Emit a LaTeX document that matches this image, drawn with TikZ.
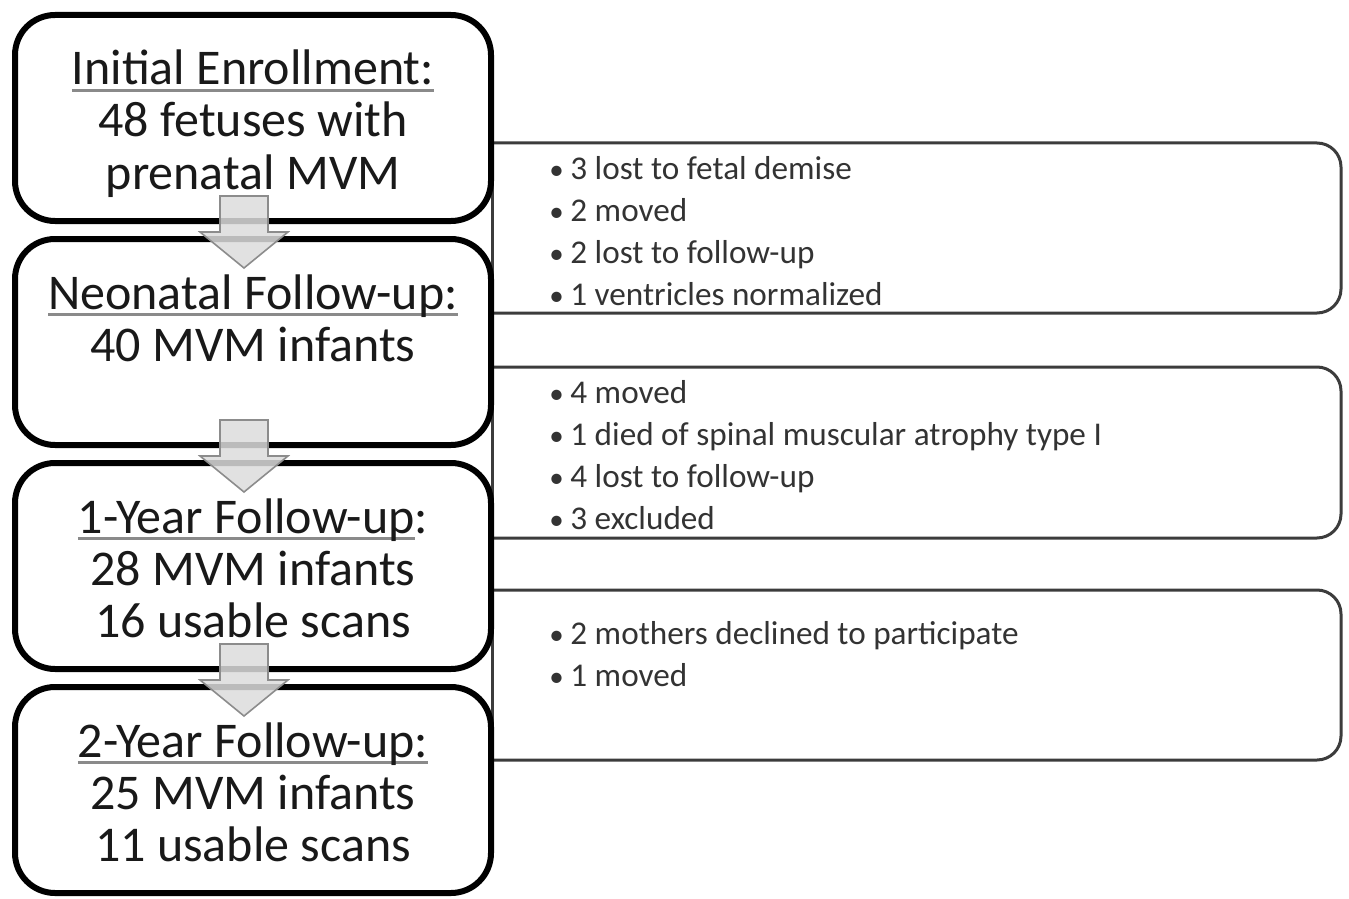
\documentclass[tikz,border=0pt]{standalone}
\usepackage{fontspec}
\setmainfont{Carlito}
\usetikzlibrary{positioning,calc}

\definecolor{arrowfill}{HTML}{DCDCDC}
\definecolor{arrowline}{HTML}{8C8C8C}
\definecolor{lossline}{HTML}{3C3C3C}
\definecolor{losstext}{HTML}{333333}
\definecolor{ulgray}{HTML}{8A8A8A}

% underlined stage title (grey rule under the text)
\newcommand{\ttl}[1]{\setbox0\hbox{#1}\rlap{\color{ulgray}\rule[-3.5pt]{\wd0}{1.5pt}}\box0}
% three lines of a stage, with struts so every box sets them alike
\newcommand{\stage}[3]{\rule{0pt}{24pt}#1\\#2\\#3\rule[-5pt]{0pt}{5pt}}
\newcommand{\lossitem}[1]{\makebox[10.5pt][l]{\fontsize{14.5}{14.5}\selectfont\textbullet}#1}

\tikzset{
  stagebox/.style={draw=black, line width=3pt, rounded corners=20pt, fill=white,
    minimum width=238pt, minimum height=103pt, inner sep=0pt, outer sep=0pt,
    align=center, text=black!90, font=\fontsize{25}{26}\selectfont},
  losslist/.style={anchor=base west, align=left, inner sep=0pt, text=losstext,
    font=\fontsize{16.6}{21}\selectfont},
  lossbox/.style={draw=lossline, line width=1.5pt, rounded corners=12pt},
  flowarrow/.style={fill=arrowfill, draw=arrowline, line width=0.8pt, fill opacity=0.85}
}

\begin{document}
\begin{tikzpicture}[x=0.5pt, y=-0.5pt]
\useasboundingbox (0,0) rectangle (1349,899);
% Loss boxes, behind the stages
\foreach \ya/\yb in {143/313, 367/538, 590/760}{
  \draw[lossbox] (492,\ya) -- (1341,\ya) -- (1341,\yb) -- (492,\yb);
  \draw[lossbox] (492,\ya) -- (492,\yb);
}
% Stages
\node[stagebox] (enroll) at (253,118) {\stage{\ttl{Initial Enrollment:}}{48 fetuses with}{prenatal MVM}};
\node[stagebox, below=9pt of enroll] (neonatal) {\stage{\ttl{Neonatal Follow-up:}}{40 MVM infants}{}};
\node[stagebox, below=9pt of neonatal] (year1) {\stage{\ttl{1-Year Follow-up}:}{28 MVM infants}{16 usable scans}};
\node[stagebox, below=9pt of year1] (year2) {\stage{\ttl{2-Year Follow-up:}}{25 MVM infants}{11 usable scans}};
% Block arrows between stages
\foreach \a/\b in {enroll/neonatal, neonatal/year1, year1/year2}
  \draw[flowarrow] ($(\a.south)+(-33,-25)$) -- ($(\a.south)+(15,-25)$) -- ($(\b.north)+(15,-7)$)
    -- ++(20,0) -- ($(\b.north)+(-9,29)$) -- ($(\b.north)+(-53,-7)$) -- ++(20,0) -- cycle;
% Losses
\node[losslist] (loss1) at (549,305) {\lossitem{3 lost to fetal demise}\\\lossitem{2 moved}\\\lossitem{2 lost to follow-up}\\\lossitem{1 ventricles normalized}};
\node[losslist] (loss2) at (549,529) {\lossitem{4 moved}\\\lossitem{1 died of spinal muscular atrophy type I}\\\lossitem{4 lost to follow-up}\\\lossitem{3 excluded}};
\node[losslist] (loss3) at (549,686) {\lossitem{2 mothers declined to participate}\\\lossitem{1 moved}};
\end{tikzpicture}
\end{document}
